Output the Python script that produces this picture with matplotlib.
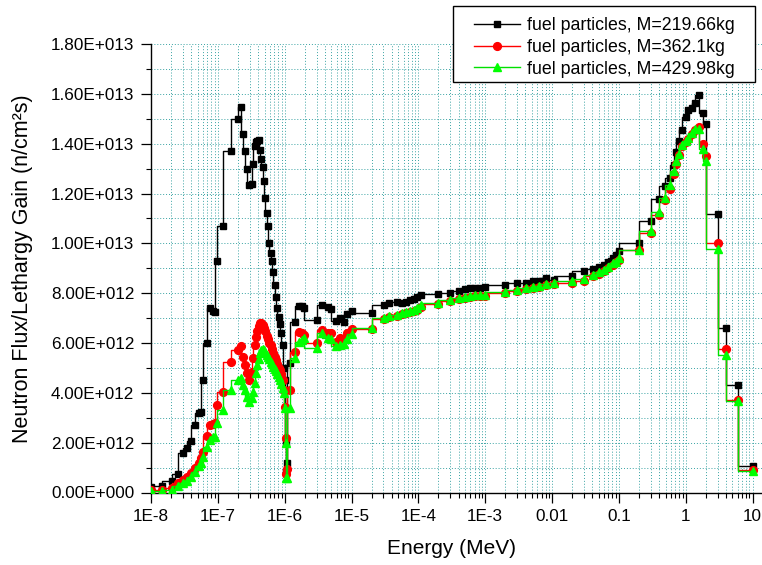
import numpy as np
import matplotlib
matplotlib.use("Agg")
import matplotlib.pyplot as plt
from matplotlib.patches import Rectangle
from matplotlib.ticker import FixedLocator, FuncFormatter, MultipleLocator, NullFormatter

plt.rcParams['font.family'] = ['Liberation Sans', 'DejaVu Sans']

# Energy grid (MeV) – upper bounds of the groups
energy = [
    1.00e-8, 1.46e-8, 2.04e-8, 2.51e-8, 3.04e-8, 3.49e-8, 3.97e-8, 4.51e-8, 5.18e-8, 5.55e-8,
    6.07e-8, 6.96e-8, 7.64e-8, 8.57e-8, 9.08e-8, 9.83e-8, 1.20e-7, 1.58e-7, 1.97e-7, 2.22e-7,
    2.41e-7, 2.58e-7, 2.76e-7, 2.96e-7, 3.22e-7, 3.40e-7, 3.57e-7, 3.73e-7, 3.90e-7, 4.10e-7,
    4.28e-7, 4.48e-7, 4.70e-7, 4.92e-7, 5.14e-7, 5.40e-7, 5.64e-7, 5.90e-7, 6.19e-7, 6.48e-7,
    6.77e-7, 7.11e-7, 7.43e-7, 7.77e-7, 8.16e-7, 8.53e-7, 8.92e-7, 9.37e-7, 9.79e-7, 1.00e-6,
    1.03e-6, 1.06e-6, 1.10e-6, 1.22e-6, 1.43e-6, 1.66e-6, 1.80e-6, 1.95e-6, 3.00e-6, 3.60e-6,
    4.40e-6, 4.90e-6, 5.90e-6, 6.80e-6, 7.60e-6, 8.50e-6, 1.00e-5, 2.05e-5, 3.05e-5, 3.70e-5,
    4.80e-5, 5.60e-5, 6.60e-5, 7.60e-5, 8.50e-5, 9.50e-5, 1.10e-4, 2.00e-4, 3.00e-4, 4.10e-4,
    5.00e-4, 6.00e-4, 7.00e-4, 8.30e-4, 1.00e-3, 2.00e-3, 3.00e-3, 4.10e-3, 5.20e-3, 6.50e-3,
    8.10e-3, 1.06e-2, 2.00e-2, 3.00e-2, 4.10e-2, 5.00e-2, 5.90e-2, 7.00e-2, 8.10e-2, 9.20e-2,
    1.00e-1, 2.00e-1, 3.00e-1, 4.00e-1, 4.90e-1, 5.90e-1, 6.60e-1, 7.20e-1, 7.90e-1, 8.90e-1,
    1.00, 1.10, 1.25, 1.40, 1.60, 1.80, 2.00, 3.00, 4.00, 6.00, 10.0,
]

# Flux per lethargy, units of 1e12 n/cm^2 s
flux_219 = [
    0.22, 0.27, 0.47, 0.73, 1.60, 1.77, 2.08, 2.71, 3.20, 3.22,
    4.50, 6.00, 7.40, 7.30, 7.26, 9.30, 10.70, 13.70, 15.00, 15.47,
    14.40, 13.70, 13.00, 12.35, 12.40, 13.20, 13.90, 14.05, 14.10, 14.16,
    13.75, 13.40, 13.06, 12.50, 11.80, 11.20, 10.70, 10.00, 9.60, 9.30,
    8.85, 8.33, 7.85, 7.40, 7.06, 6.75, 6.40, 5.90, 5.00, 4.50,
    2.00, 0.84, 1.20, 5.19, 6.86, 7.50, 7.50, 7.40, 6.93, 7.53,
    7.45, 7.36, 6.89, 7.00, 6.86, 7.17, 7.30, 7.22, 7.53, 7.60,
    7.64, 7.62, 7.66, 7.72, 7.77, 7.86, 7.93, 7.96, 8.02, 8.10,
    8.16, 8.20, 8.22, 8.22, 8.24, 8.33, 8.40, 8.40, 8.47, 8.50,
    8.60, 8.53, 8.69, 8.87, 8.96, 9.04, 9.14, 9.27, 9.40, 9.54,
    9.71, 10.03, 10.88, 11.77, 12.31, 12.62, 13.15, 13.65, 14.12, 14.56,
    15.07, 15.36, 15.43, 15.63, 15.94, 15.23, 14.79, 11.17, 6.59, 4.30, 1.06,
]
flux_362 = [
    0.10, 0.12, 0.20, 0.38, 0.50, 0.62, 0.80, 0.97, 1.17, 1.40,
    1.64, 2.27, 2.71, 2.75, 2.78, 3.51, 4.05, 5.23, 5.72, 5.86,
    5.45, 5.12, 4.79, 4.52, 4.85, 5.40, 5.90, 6.26, 6.50, 6.70,
    6.80, 6.82, 6.72, 6.60, 6.48, 6.30, 6.15, 6.00, 5.90, 5.75,
    5.60, 5.45, 5.30, 5.15, 5.00, 4.90, 4.75, 4.50, 4.10, 3.45,
    2.20, 0.75, 0.95, 4.12, 5.65, 6.46, 6.40, 6.33, 6.00, 6.53,
    6.40, 6.42, 6.06, 6.19, 6.15, 6.40, 6.55, 6.57, 6.96, 7.04,
    7.09, 7.15, 7.20, 7.24, 7.27, 7.33, 7.45, 7.55, 7.68, 7.75,
    7.80, 7.85, 7.88, 7.88, 7.88, 8.00, 8.08, 8.17, 8.20, 8.25,
    8.32, 8.35, 8.42, 8.50, 8.68, 8.78, 8.90, 9.02, 9.15, 9.25,
    9.34, 9.74, 10.40, 11.15, 11.75, 12.20, 12.80, 13.20, 13.55, 13.90,
    14.05, 14.20, 14.40, 14.55, 14.65, 14.00, 13.50, 10.03, 5.75, 3.71, 0.90,
]
flux_430 = [
    0.05, 0.06, 0.12, 0.25, 0.38, 0.48, 0.63, 0.84, 1.05, 1.20,
    1.44, 1.84, 2.10, 2.24, 2.24, 2.78, 3.31, 4.12, 4.52, 4.59,
    4.32, 4.12, 3.82, 3.65, 3.78, 4.05, 4.40, 4.79, 5.10, 5.35,
    5.60, 5.72, 5.75, 5.72, 5.65, 5.52, 5.45, 5.35, 5.25, 5.15,
    5.05, 4.95, 4.87, 4.75, 4.62, 4.50, 4.35, 4.20, 4.00, 3.40,
    2.00, 0.57, 0.60, 3.40, 5.39, 6.06, 6.12, 6.20, 5.79, 6.39,
    6.20, 6.15, 5.86, 5.92, 5.95, 6.15, 6.37, 6.60, 7.00, 7.08,
    7.13, 7.20, 7.26, 7.30, 7.33, 7.40, 7.53, 7.60, 7.73, 7.80,
    7.86, 7.90, 7.93, 7.93, 7.93, 8.06, 8.13, 8.22, 8.26, 8.30,
    8.36, 8.40, 8.47, 8.56, 8.73, 8.83, 8.94, 9.07, 9.20, 9.27,
    9.40, 9.74, 10.48, 11.24, 11.81, 12.35, 12.92, 13.29, 13.59, 13.96,
    14.09, 14.23, 14.43, 14.59, 14.59, 13.78, 13.29, 9.77, 5.52, 3.69, 0.88,
]

labels = ["fuel particles, M=219.66kg", "fuel particles, M=362.1kg", "fuel particles, M=429.98kg"]
xtick_vals = [1e-8, 1e-7, 1e-6, 1e-5, 1e-4, 1e-3, 1e-2, 1e-1, 1, 10]
xtick_labels = ["1E-8", "1E-7", "1E-6", "1E-5", "1E-4", "1E-3", "0.01", "0.1", "1", "10"]

W, H = 762, 565
fig = plt.figure(figsize=(W / 100, H / 100), dpi=100)
x0, x1, ybot, ytop = 151, 762, 492.5, 44
ax = fig.add_axes([x0 / W, (H - ybot) / H, (x1 - x0) / W, (ybot - ytop) / H])

E = np.array(energy)
scale = 1e12
ax.plot(E, np.array(flux_219) * scale, drawstyle='steps-pre', color='black', lw=1.0,
        marker='s', ms=5.0, mfc='black', mec='black', label=labels[0], zorder=3)
ax.plot(E, np.array(flux_362) * scale, drawstyle='steps-pre', color='#ff0000', lw=1.0,
        marker='o', ms=5.6, mfc='#ff0000', mec='#ff0000', label=labels[1], zorder=4)
ax.plot(E, np.array(flux_430) * scale, drawstyle='steps-pre', color='#00e000', lw=1.0,
        marker='^', ms=5.8, mfc='#00ff00', mec='#00ff00', label=labels[2], zorder=5)

decade = (752.5 - 151) / 9
ax.set_xscale('log')
ax.set_xlim(1e-8, 10 ** (1 + (762 - 752.5) / decade))
ax.set_ylim(0, 1.8e13)

ax.xaxis.set_major_locator(FixedLocator(xtick_vals))
ax.set_xticklabels(xtick_labels)
minors = [m * 10.0 ** k for k in range(-8, 1) for m in range(2, 10)]
ax.xaxis.set_minor_locator(FixedLocator(minors))
ax.xaxis.set_minor_formatter(NullFormatter())

def yfmt(v, pos):
    if v == 0:
        return "0.00E+000"
    e = int(np.floor(np.log10(abs(v)) + 1e-9))
    m = v / 10 ** e
    return f"{m:.2f}E+{e:03d}"

ax.yaxis.set_major_locator(MultipleLocator(2e12))
ax.yaxis.set_minor_locator(MultipleLocator(1e12))
ax.yaxis.set_major_formatter(FuncFormatter(yfmt))

grid_col = '#3aa3a3'
ax.grid(True, which='both', axis='both', color=grid_col, ls=(0, (1.0, 2.0)), lw=0.7, zorder=0)
ax.set_axisbelow(True)

for s in ['top', 'right']:
    ax.spines[s].set_visible(False)
for s in ['left', 'bottom']:
    ax.spines[s].set_linewidth(1.0)

ax.tick_params(which='major', direction='out', length=7, width=0.9, labelsize=12.3, pad=5)
ax.tick_params(which='minor', direction='out', length=3.5, width=0.8)

ax.set_xlabel("Energy (MeV)", fontsize=15)
ax.xaxis.set_label_coords((451.5 - x0) / (x1 - x0), (ybot - 539) / (ybot - ytop))
ax.set_ylabel("Neutron Flux/Lethargy Gain (n/cm²s)", fontsize=15.5)
ax.yaxis.set_label_coords((33 - x0) / (x1 - x0), 0.5)

# legend frame (drawn as a figure rectangle so the padding matches the reference)
fig.add_artist(Rectangle((453 / W, 1 - 82 / H), 302 / W, 76 / H, transform=fig.transFigure,
                         facecolor='white', edgecolor='black', lw=1.0, zorder=5))
leg = fig.legend(loc='upper left', bbox_to_anchor=(474 / W, 1 - 17 / H), fontsize=12.8,
                 frameon=False, numpoints=1, handlelength=2.6,
                 borderpad=0, labelspacing=0.27, handletextpad=0.4, borderaxespad=0)
leg.set_zorder(6)

fig.savefig("out.png", dpi=100)
